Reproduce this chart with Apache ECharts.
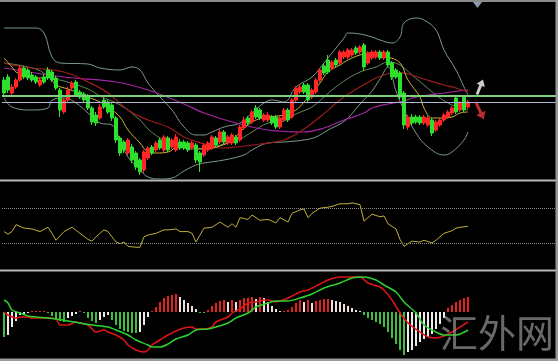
<!DOCTYPE html>
<html><head><meta charset="utf-8">
<script src="https://cdn.jsdelivr.net/npm/echarts@6/dist/echarts.min.js"></script>
<style>html,body{margin:0;padding:0;background:#000;}#c{width:558px;height:361px;}</style>
</head><body><div id="c"></div>
<script>
// ---------- data ----------
const slotCount = 139;               // bars + empty right margin of the chart
const categories = Array.from({length: slotCount}, (_, i) => 'Bar ' + (i + 1));

const candleOpen  = [99,102,86,92,99,111,109,104,102,94, 102,109,107,101,89,67,79,91,97,87, 85,83,71,64,61,79,77,74,61,41, 37,26,32,26,19,9,21,32,29,39, 29,41,32,29,37,37,36,31,34,26, 24,29,31,41,37,47,36,36,42,39, 51,61,57,71,69,59,59,62,62,52, 59,69,62,79,87,94,94,82,87,99, 113,119,111,119,116,122,122,124,131,127, 134,116,121,122,127,121,127,116,109,106, 86,52,62,62,62,56,54,59,49,54, 59,62,66,81,69,82,72];
const candleClose = [86,89,92,99,111,102,101,99,97,99, 97,101,99,91,69,79,89,96,84,82, 79,71,57,56,72,72,67,61,39,26, 29,39,19,12,7,27,31,26,36,31, 42,29,39,42,31,31,29,36,19,17, 34,36,42,34,47,37,42,44,36,52, 59,56,67,62,61,64,64,56,52,61, 69,59,79,91,92,87,79,89,99,109, 106,107,117,114,127,127,129,129,126,132, 112,126,127,127,121,127,114,102,102,82, 54,62,56,57,56,62,61,46,57,59, 64,67,71,67,76,69,77];
const candleLow   = [83,86,84,90,97,100,99,97,95,92, 95,99,97,89,62,65,77,89,82,80, 77,69,54,53,59,70,65,58,36,23, 26,24,16,9,4,6,19,24,27,29, 27,27,30,27,29,29,27,29,16,7, 22,27,29,32,35,35,34,34,34,37, 49,54,55,60,59,57,57,54,50,50, 57,57,60,77,85,85,77,80,85,97, 104,105,109,112,114,120,120,122,124,125, 108,114,119,120,119,119,112,99,100,79, 50,49,54,55,54,54,52,43,47,52, 57,60,64,65,67,67,70];
const candleHigh  = [102,105,95,101,114,113,111,107,104,102, 105,112,109,103,91,81,92,98,99,89, 87,85,73,67,75,81,79,76,63,43, 39,41,35,28,21,29,33,34,38,41, 44,43,41,45,40,39,38,38,36,28, 36,38,44,43,50,49,44,46,44,54, 62,63,69,74,71,66,67,64,64,63, 71,71,81,93,95,96,96,91,101,111, 115,124,119,121,129,129,131,131,133,134, 136,128,129,129,129,129,129,118,111,108, 88,64,65,64,64,64,63,61,59,61, 66,69,73,83,78,84,79];

// indicator lines: [bar index, value]
const bollUpper = [[0,151],[8,151],[10,146],[12,122],[14,116],[21,115],[24,111],[29,109],[32,112],[34,109],[36,96],[39,82],[42,69],[45,52],[48,44],[50,44],[52,47],[55,52],[59,56],[62,66],[65,76],[67,79],[70,77],[73,92],[77,102],[80,116],[82,126],[85,141],[86,146],[89,145],[92,142],[94,139],[97,136],[99,142],[100,156],[103,161],[105,159],[108,149],[110,129],[113,109],[115,92],[116,84]];
const bollMid   = [[0,116],[8,110],[12,101],[15,98],[21,90],[24,83],[29,74],[34,59],[36,50],[39,41],[42,35],[45,31],[48,30],[52,32],[55,35],[59,40],[62,47],[66,56],[70,58],[73,65],[77,72],[80,82],[82,89],[85,98],[89,107],[93,112],[96,117],[99,114],[102,104],[105,94],[108,84],[111,76],[114,71],[116,69]];
const bollLower = [[0,81],[2,72],[7,69],[11,71],[12,79],[15,81],[18,76],[21,66],[24,56],[27,54],[29,39],[31,22],[34,9],[36,2],[39,0],[42,1],[45,8],[48,14],[50,16],[55,19],[60,24],[62,29],[66,36],[70,37],[75,39],[78,42],[81,49],[84,55],[86,61],[89,75],[92,88],[94,100],[96,112],[98,88],[100,69],[103,46],[106,32],[110,24],[112,27],[115,39],[116,47]];
const maFast    = [[0,121],[2,112],[3,107],[6,102],[9,101],[11,102],[13,94],[16,90],[18,87],[21,82],[24,77],[26,72],[29,62],[31,49],[34,36],[36,27],[38,26],[41,27],[43,32],[45,36],[48,31],[50,30],[54,33],[57,39],[60,51],[63,59],[66,62],[70,64],[73,69],[75,77],[77,86],[79,96],[81,107],[84,114],[86,119],[89,124],[92,126],[96,122],[99,116],[101,99],[104,82],[105,71],[107,61],[109,61],[112,62],[114,66],[116,67]];
const maMid     = [[0,116],[2,114],[7,111],[15,107],[21,97],[26,86],[31,69],[36,59],[41,52],[45,42],[50,35],[54,31],[58,32],[64,35],[70,39],[75,50],[79,62],[85,82],[92,99],[95,104],[98,107],[101,105],[105,100],[110,94],[113,91],[116,87]];
const maSlow    = [[0,111],[15,102],[28,97],[36,89],[45,75],[50,66],[58,56],[66,49],[75,47],[80,51],[85,59],[90,66],[92,71],[96,75],[100,78],[103,82],[110,86],[116,89]];
const levelGreen = 83;
const levelLavender = 77;
const arrowUp = [[119, 92]];
const arrowDown = [[119, 68]];

const rsi = [[0,43],[1,40],[2,43],[3,51],[5,47],[7,46],[9,43],[11,48],[12,41],[13,33],[15,43],[17,48],[19,41],[21,34],[22,32],[23,37],[25,45],[26,43],[28,31],[29,29],[30,31],[31,26],[33,25],[34,25],[35,37],[36,39],[38,41],[40,45],[41,45],[43,46],[44,43],[46,43],[47,41],[48,31],[50,47],[52,48],[54,54],[56,48],[57,52],[58,48],[59,59],[61,57],[62,62],[64,56],[66,57],[67,55],[68,53],[69,59],[71,54],[72,64],[74,68],[75,69],[76,59],[77,64],[79,70],[81,71],[82,72],[84,75],[86,75],[87,76],[88,75],[89,74],[90,55],[92,63],[94,60],[95,61],[96,52],[98,46],[99,34],[100,26],[102,32],[104,31],[105,33],[107,30],[108,33],[110,41],[112,44],[113,47],[114,48],[116,49]];
const rsiLevels = [70, 30];

const macdHist = [-25,-23,-15,-9,-3,-2,-1,1,1,1, 1,-1,-4,-7,-9,-10,-6,-4,-2,1, -1,-6,-9,-11,-8,-5,-3,-8,-13,-17, -19,-20,-21,-21,-20,-13,-5,1,5,10, 14,16,17,18,15,12,9,6,3,-1, -1,2,6,9,11,12,10,12,10,12, 14,14,15,13,15,14,10,6,3,1, 1,2,5,9,12,10,12,9,11,12, 13,13,12,11,10,8,6,4,2,1, -3,-6,-8,-10,-12,-15,-20,-26,-32,-38, -43,-40,-38,-34,-30,-27,-25,-22,-17,-12, -6,4,7,10,12,14,15];
const macdLine = [[0,0],[1,-3],[3,-6],[4,-5],[6,-5],[7,-6],[11,-6],[13,-7],[14,-13],[16,-13],[18,-10],[19,-11],[21,-13],[23,-20],[25,-18],[26,-20],[28,-23],[30,-28],[31,-33],[33,-38],[35,-40],[36,-38],[37,-33],[39,-28],[41,-23],[43,-19],[45,-16],[47,-15],[48,-17],[50,-17],[52,-15],[53,-10],[56,-5],[57,-1],[59,3],[61,9],[63,10],[65,12],[66,12],[68,10],[69,11],[71,14],[74,20],[76,22],[79,28],[81,32],[84,35],[87,35],[89,35],[91,29],[94,25],[95,22],[97,12],[99,-1],[101,-11],[104,-20],[106,-25],[108,-26],[110,-24],[112,-20],[114,-15],[116,-10]];
const signalLine = [[0,12],[1,9],[2,2],[4,-1],[6,-4],[8,-5],[11,-6],[13,-7],[16,-9],[19,-11],[22,-13],[26,-15],[28,-18],[31,-23],[33,-28],[36,-33],[37,-35],[39,-35],[41,-32],[43,-27],[46,-23],[48,-18],[51,-17],[53,-15],[56,-11],[58,-6],[61,-1],[63,5],[66,9],[68,11],[71,11],[74,14],[77,18],[80,24],[84,29],[87,34],[90,35],[93,32],[95,27],[98,20],[100,10],[103,-1],[105,-13],[108,-20],[110,-23],[113,-23],[116,-18]];

// ---------- build ----------
const candles = candleOpen.map((o, i) => [o, candleClose[i], candleLow[i], candleHigh[i]]);
const histColored = macdHist.map((v, i) => {
  const prev = i > 0 ? macdHist[i - 1] : v;
  let c;
  if (v >= 0) c = (v >= prev) ? '#e52222' : '#f0dede';
  else c = (v <= prev) ? '#3fbf3f' : '#ececec';
  return {value: v, itemStyle: {color: c}};
});

const chart = echarts.init(document.getElementById('c'), null, {renderer: 'canvas'});
const xAxisBase = {type: 'category', data: categories, boundaryGap: true, show: false};
const lineS = (name, data, color, w, smooth) => ({
  name, type: 'line', data, xAxisIndex: 0, yAxisIndex: 0, showSymbol: false, smooth: smooth,
  lineStyle: {color, width: w}, z: 2, silent: true
});
const arrowPath = 'path://M5,0 L10,7 L6.6,7 L6.6,18 L3.4,18 L3.4,7 L0,7 Z';

chart.setOption({
  backgroundColor: '#000',
  animation: false,
  grid: [
    {left: 2, width: 556, top: 3, height: 176},
    {left: 2, width: 556, top: 182, height: 87},
    {left: 2, width: 556, top: 272, height: 86}
  ],
  xAxis: [
    Object.assign({gridIndex: 0}, xAxisBase),
    Object.assign({gridIndex: 1}, xAxisBase),
    Object.assign({gridIndex: 2}, xAxisBase)
  ],
  yAxis: [
    {gridIndex: 0, type: 'value', min: 0, max: 176, show: false},
    {gridIndex: 1, type: 'value', min: 0, max: 100, show: false},
    {gridIndex: 2, type: 'value', min: -46, max: 40, show: false}
  ],
  series: [
    lineS('BB upper', bollUpper, '#7a9a8a', 1, 0.4),
    lineS('BB lower', bollLower, '#7a9a8a', 1, 0.4),
    lineS('BB mid', bollMid, '#5f8a5a', 1, 0.4),
    lineS('MA slow', maSlow, '#a526a5', 1.2, 0.4),
    lineS('MA mid', maMid, '#9c1c1c', 1.2, 0.4),
    lineS('MA fast', maFast, '#c9b43a', 1, 0.4),
    {
      name: 'price', type: 'candlestick', data: candles, xAxisIndex: 0, yAxisIndex: 0,
      barWidth: 3, z: 3,
      itemStyle: {color: '#ff2626', color0: '#2ee02e', borderColor: '#ff2626', borderColor0: '#2ee02e', borderWidth: 1},
      markLine: {
        silent: true, symbol: 'none', label: {show: false},
        data: [
          {yAxis: levelGreen, lineStyle: {color: '#7ccf7c', width: 2, type: 'solid'}},
          {yAxis: levelLavender, lineStyle: {color: '#b4b4d6', width: 1, type: 'solid'}}
        ]
      }
    },
    {
      name: 'arrow up', type: 'scatter', data: arrowUp, xAxisIndex: 0, yAxisIndex: 0, z: 5,
      symbol: arrowPath, symbolSize: [9, 16], symbolRotate: -22,
      itemStyle: {color: '#ffffff'}
    },
    {
      name: 'arrow down', type: 'scatter', data: arrowDown, xAxisIndex: 0, yAxisIndex: 0, z: 5,
      symbol: arrowPath, symbolSize: [10, 18], symbolRotate: -155,
      itemStyle: {color: '#e8383c'}
    },
    {
      name: 'RSI', type: 'line', data: rsi, xAxisIndex: 1, yAxisIndex: 1, showSymbol: false,
      lineStyle: {color: '#bfae3a', width: 1},
      markLine: {
        silent: true, symbol: 'none', label: {show: false},
        lineStyle: {color: '#8c8c8c', width: 1, type: 'dotted'},
        data: rsiLevels.map(v => ({yAxis: v}))
      }
    },
    {
      name: 'MACD hist', type: 'bar', data: histColored, xAxisIndex: 2, yAxisIndex: 2,
      barWidth: 2, z: 1
    },
    {
      name: 'MACD', type: 'line', data: macdLine, xAxisIndex: 2, yAxisIndex: 2, showSymbol: false, smooth: 0.3,
      lineStyle: {color: '#e01414', width: 1.5}, z: 3
    },
    {
      name: 'Signal', type: 'line', data: signalLine, xAxisIndex: 2, yAxisIndex: 2, showSymbol: false, smooth: 0.3,
      lineStyle: {color: '#2fd12f', width: 1.5}, z: 3
    }
  ],
  graphic: [
    {type: 'rect', shape: {x: 0, y: 0, width: 558, height: 2}, style: {fill: '#8a8a8a'}, z: 10},
    {type: 'rect', shape: {x: 0, y: 179.5, width: 558, height: 2}, style: {fill: '#b8b8b8'}, z: 10},
    {type: 'rect', shape: {x: 0, y: 269.5, width: 558, height: 2}, style: {fill: '#b8b8b8'}, z: 10},
    {type: 'rect', shape: {x: 0, y: 358.5, width: 558, height: 2.5}, style: {fill: '#9a9a9a'}, z: 10},
    {type: 'rect', shape: {x: 555.5, y: 0, width: 2.5, height: 361}, style: {fill: '#9a9a9a'}, z: 10},
    {type: 'polygon', shape: {points: [[473, 2], [482, 2], [477.5, 8]]}, style: {fill: '#8c9cae'}, z: 10},
    {type: 'text', left: 440, top: 314, z: 20, silent: true,
     style: {text: '汇外网', fill: 'rgba(150,150,150,0.7)', font: '38px "Noto Sans CJK SC"'}}
  ]
});
</script>
</body></html>
